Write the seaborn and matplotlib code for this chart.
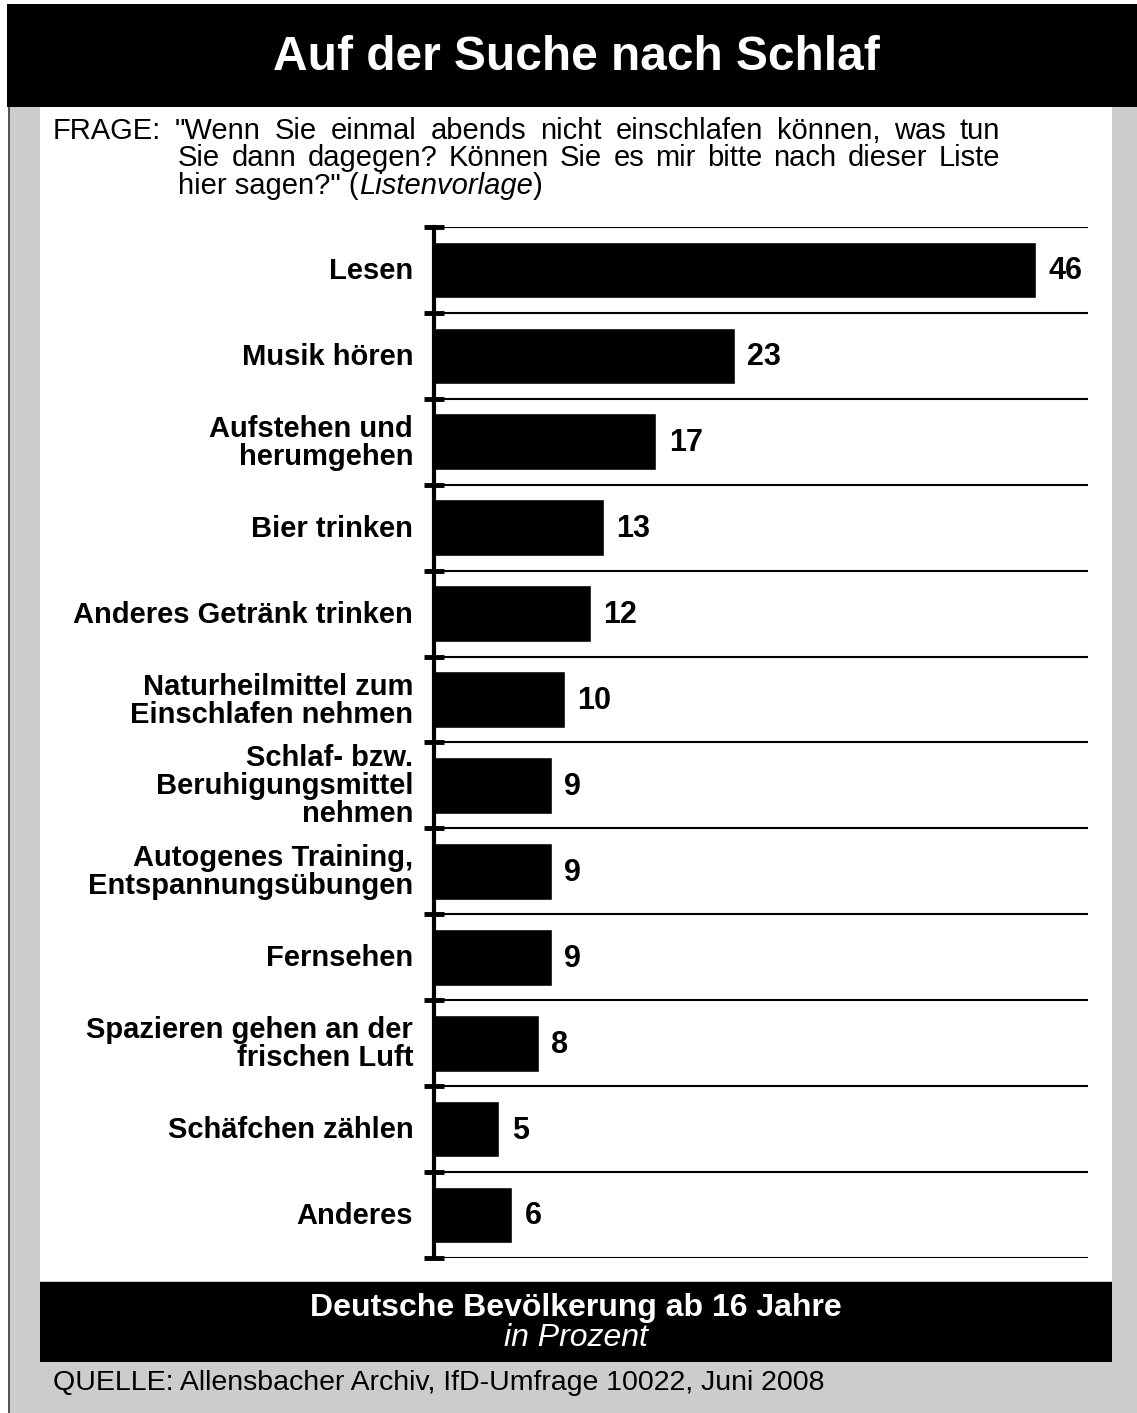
import matplotlib
matplotlib.use("Agg")
from matplotlib import pyplot as plt
from matplotlib.patches import Rectangle
import matplotlib.transforms as mtransforms
import numpy as np
import seaborn as sns

# data
categories = [
    "Lesen",
    "Musik hören",
    "Aufstehen und\nherumgehen",
    "Bier trinken",
    "Anderes Getränk trinken",
    "Naturheilmittel zum\nEinschlafen nehmen",
    "Schlaf- bzw.\nBeruhigungsmittel\nnehmen",
    "Autogenes Training,\nEntspannungsübungen",
    "Fernsehen",
    "Spazieren gehen an der\nfrischen Luft",
    "Schäfchen zählen",
    "Anderes",
]
values = [46, 23, 17, 13, 12, 10, 9, 9, 9, 8, 5, 6]

title = "Auf der Suche nach Schlaf"
question_lines = [
    '"Wenn Sie einmal abends nicht einschlafen können, was tun',
    "Sie dann dagegen? Können Sie es mir bitte nach dieser Liste",
]
subtitle = "Deutsche Bevölkerung ab 16 Jahre"
unit = "in Prozent"
source = "QUELLE: Allensbacher Archiv, IfD-Umfrage 10022, Juni 2008"

sns.set_style("white")
plt.rcParams["font.family"] = ["Liberation Sans", "DejaVu Sans"]
plt.rcParams["text.color"] = "black"
plt.rcParams["ytick.labelcolor"] = "black"

W, H = 1137, 1413
fig = plt.figure(figsize=(W / 100, H / 100), dpi=100)
fig.patch.set_facecolor("white")


def px(x, y):
    return x / W, 1 - y / H


def box(x0, y0, x1, y1, color):
    fx, fy = px(x0, y1)
    fig.add_artist(Rectangle((fx, fy), (x1 - x0) / W, (y1 - y0) / H,
                             transform=fig.transFigure, color=color,
                             lw=0, zorder=-10))


# background frame
box(8, 107, W, H, "#555555")
box(10, 107, W, H, "#cccccc")
box(7, 4, W, 107, "black")
box(40, 107, 1112, 1281, "white")
box(40, 1282, 1112, 1362, "black")

fig.text(*px(576, 58), title, color="white", fontsize=34.5, fontweight="bold",
         ha="center", va="center")

# question text, first two lines justified
renderer = fig.canvas.get_renderer()
qkw = dict(fontsize=21, color="black", va="baseline", ha="left")
fig.text(*px(53, 139), "FRAGE:", **qkw)


def justify(line, x0, x1, y):
    words = line.split(" ")
    texts = [fig.text(0, 0, w, **qkw) for w in words]
    widths = [t.get_window_extent(renderer).width for t in texts]
    gap = (x1 - x0 - sum(widths)) / (len(words) - 1)
    x = x0
    for t, w in zip(texts, widths):
        t.set_position(px(x, y))
        x += w + gap


justify(question_lines[0], 175, 1000, 139)
justify(question_lines[1], 178, 1000, 166)

x = 178
for piece, style in [('hier sagen?" (', "normal"), ("Listenvorlage", "italic"), (")", "normal")]:
    t = fig.text(*px(x, 194), piece, style=style, **qkw)
    x += t.get_window_extent(renderer).width

# bar chart
ax = fig.add_axes([434 / W, 1 - 1258 / H, (1088 - 434) / W, (1258 - 227) / H])
ax.set_facecolor("none")
sns.barplot(x=values, y=categories, orient="h", color="black", width=0.66,
            saturation=1, ax=ax)
ax.set_xlim(0, 50)
ax.set_ylim(len(categories) - 0.5, -0.5)
ax.set_xlabel("")
ax.set_ylabel("")
ax.set_xticks([])

ax.set_yticks(np.arange(-0.5, len(categories)), minor=True)
ax.tick_params(axis="y", which="major", length=0, pad=15, labelsize=21,
               labelcolor="black")
ax.tick_params(axis="y", which="minor", direction="inout", length=15,
               width=3.5, color="black", left=True)
lift = mtransforms.ScaledTranslation(0, 2 / 100, fig.dpi_scale_trans)
for lab in ax.get_yticklabels():
    lab.set_fontweight("bold")
    lab.set_linespacing(1.0)
    lab.set_transform(lab.get_transform() + lift)
ax.grid(False)
ax.grid(which="minor", axis="y", color="black", lw=1.5)

for s in ["top", "right", "bottom"]:
    ax.spines[s].set_visible(False)
ax.spines["left"].set_linewidth(3)
ax.spines["left"].set_color("black")

for i, v in enumerate(values):
    ax.annotate(str(v), xy=(v, i), xytext=(9, -1), textcoords="offset points",
                ha="left", va="center", fontsize=22, fontweight="bold",
                color="black")

fig.text(*px(576, 1308), subtitle, color="white", fontsize=23,
         fontweight="bold", ha="center", va="center")
fig.text(*px(576, 1338), unit, color="white", fontsize=23, style="italic",
         ha="center", va="center")

fig.text(*px(53, 1383), source, fontsize=20.5, ha="left", va="center")

fig.savefig("out.png", dpi=100)
